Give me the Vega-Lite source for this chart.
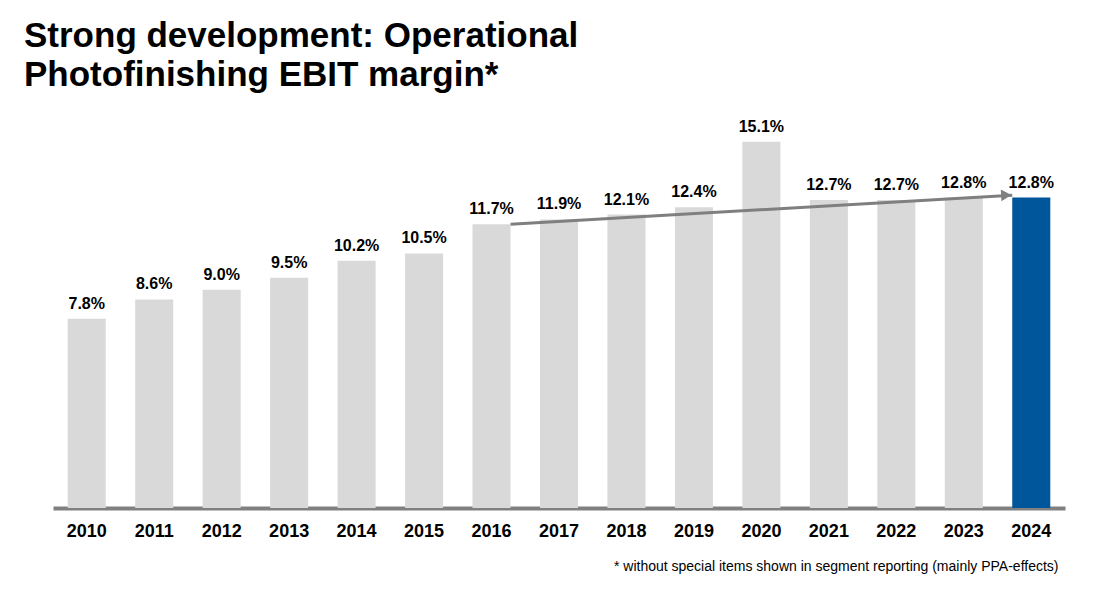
{
  "$schema": "https://vega.github.io/schema/vega-lite/v6.json",
  "width": 1012,
  "height": 388,
  "autosize": {"type": "none"},
  "padding": {"left": 53, "top": 120, "right": 53, "bottom": 86},
  "background": "white",
  "config": {
    "view": {"stroke": null},
    "font": "Liberation Sans"
  },
  "title": {
    "text": ["Strong development: Operational", "Photofinishing EBIT margin*"],
    "anchor": "start",
    "frame": "group",
    "font": "Liberation Sans",
    "fontSize": 35,
    "fontWeight": "bold",
    "color": "#000000",
    "lineHeight": 39,
    "baseline": "alphabetic",
    "dx": -29,
    "dy": 36,
    "offset": 34
  },
  "layer": [
    {
      "data": {
        "values": [
          {"year": "2010", "v": 7.8, "hl": "no"},
          {"year": "2011", "v": 8.6, "hl": "no"},
          {"year": "2012", "v": 9.0, "hl": "no"},
          {"year": "2013", "v": 9.5, "hl": "no"},
          {"year": "2014", "v": 10.2, "hl": "no"},
          {"year": "2015", "v": 10.5, "hl": "no"},
          {"year": "2016", "v": 11.7, "hl": "no"},
          {"year": "2017", "v": 11.9, "hl": "no"},
          {"year": "2018", "v": 12.1, "hl": "no"},
          {"year": "2019", "v": 12.4, "hl": "no"},
          {"year": "2020", "v": 15.1, "hl": "no"},
          {"year": "2021", "v": 12.7, "hl": "no"},
          {"year": "2022", "v": 12.7, "hl": "no"},
          {"year": "2023", "v": 12.8, "hl": "no"},
          {"year": "2024", "v": 12.8, "hl": "yes"}
        ]
      },
      "transform": [{"calculate": "format(datum.v, '.1f') + '%'", "as": "label"}],
      "encoding": {
        "x": {
          "field": "year",
          "type": "nominal",
          "scale": {"paddingInner": 0.436, "paddingOuter": 0.218},
          "axis": {
            "title": "* without special items shown in segment reporting (mainly PPA-effects)",
            "titleFont": "Liberation Sans",
            "titleFontSize": 14,
            "titleFontWeight": "normal",
            "titleColor": "#000000",
            "titleAlign": "right",
            "titleX": 1005,
            "titlePadding": 19,
            "labelAngle": 0,
            "labelFont": "Liberation Sans",
            "labelFontSize": 18,
            "labelFontWeight": "bold",
            "labelColor": "#000000",
            "labelPadding": 14,
            "ticks": false,
            "domainColor": "#808080",
            "domainWidth": 4,
            "grid": false
          }
        },
        "y": {
          "field": "v",
          "type": "quantitative",
          "scale": {"domain": [0, 16], "nice": false},
          "axis": null
        }
      },
      "layer": [
        {
          "mark": {"type": "bar"},
          "encoding": {
            "color": {
              "field": "hl",
              "type": "nominal",
              "scale": {"domain": ["no", "yes"], "range": ["#d9d9d9", "#00569b"]},
              "legend": null
            }
          }
        },
        {
          "mark": {"type": "text", "dy": -10, "baseline": "alphabetic", "font": "Liberation Sans", "fontSize": 16, "fontWeight": "bold", "color": "#000000"},
          "encoding": {"text": {"field": "label", "type": "nominal"}}
        }
      ]
    },
    {
      "data": {"values": [{"year": "2016", "year2": "2024", "y1": 11.7, "y2": 12.9}]},
      "mark": {"type": "rule", "color": "#7f7f7f", "strokeWidth": 3},
      "encoding": {
        "x": {"field": "year", "type": "nominal", "bandPosition": 1, "axis": {"title": "* without special items shown in segment reporting (mainly PPA-effects)"}},
        "x2": {"field": "year2", "bandPosition": 0},
        "y": {"field": "y1", "type": "quantitative"},
        "y2": {"field": "y2"}
      }
    },
    {
      "data": {"values": [{"year": "2024", "y2": 12.9}]},
      "mark": {"type": "point", "shape": "triangle-right", "filled": true, "opacity": 1, "color": "#7f7f7f", "size": 140, "xOffset": -6, "angle": -3},
      "encoding": {
        "x": {"field": "year", "type": "nominal", "bandPosition": 0, "axis": {"title": "* without special items shown in segment reporting (mainly PPA-effects)"}},
        "y": {"field": "y2", "type": "quantitative"}
      }
    }
  ]
}
